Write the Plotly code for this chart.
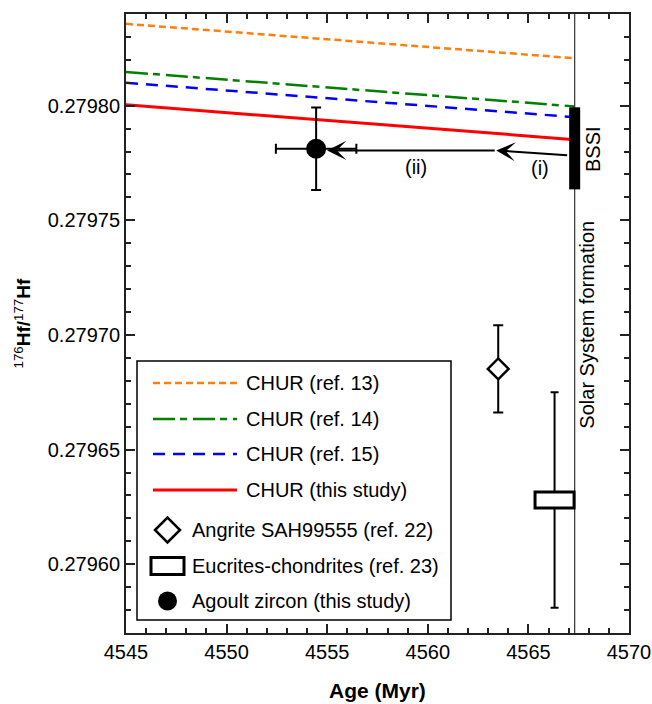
import plotly.graph_objects as go

# ---- data ----
age_range = [4545, 4570]
hf_range = [0.27957, 0.27984]

chur_ages = [4545, 4567.3]
chur_ref13 = [0.2798357, 0.2798207]
chur_ref14 = [0.2798147, 0.2797997]
chur_ref15 = [0.2798100, 0.2797950]
chur_this = [0.2798004, 0.2797852]

ss_age = 4567.3
bssi_lo, bssi_hi = 0.2797635, 0.2797993

angrite_age, angrite_hf, angrite_err = 4563.5, 0.2796852, 0.000019
eucrite_age, eucrite_hf, eucrite_age_err, eucrite_err = 4566.3, 0.279628, 0.97, 0.000047
agoult_age, agoult_hf, agoult_age_err, agoult_err = 4554.45, 0.2797812, 2.0, 0.000018

arrow_i = [(4567.0, 0.2797783), (4563.4, 0.2797805)]
arrow_ii = [(4563.4, 0.2797805), (4555.0, 0.2797805)]

legend_labels = ['CHUR (ref. 13)', 'CHUR (ref. 14)', 'CHUR (ref. 15)', 'CHUR (this study)',
                 'Angrite SAH99555 (ref. 22)', 'Eucrites-chondrites (ref. 23)', 'Agoult zircon (this study)']

# ---- layout helpers (pixel -> paper) ----
W, H = 652, 704
ML, MR, MT, MB = 126, 23, 14, 71
def px_x(px): return (px - ML) / (W - ML - MR)
def px_y(py): return (H - MB - py) / (H - MT - MB)

FONT = 'Liberation Sans, Helvetica, Arial, sans-serif'
line_styles = [
    dict(color='#ff7f0e', width=2.5, dash='7px,4px'),
    dict(color='green', width=2.5, dash='22px,5px,7px,6px'),
    dict(color='blue', width=2.5, dash='12px,8px'),
    dict(color='red', width=3, dash='solid'),
]

fig = go.Figure()
for ys, st in zip([chur_ref13, chur_ref14, chur_ref15, chur_this], line_styles):
    fig.add_trace(go.Scatter(x=chur_ages, y=ys, mode='lines', line=st, showlegend=False, hoverinfo='skip'))

# eucrites error bar (box drawn as shape on top)
fig.add_trace(go.Scatter(
    x=[eucrite_age], y=[eucrite_hf], mode='markers',
    marker=dict(size=1, color='rgba(0,0,0,0)'),
    error_y=dict(type='constant', value=eucrite_err, thickness=2, width=4, color='black'),
    showlegend=False))
# angrite
fig.add_trace(go.Scatter(
    x=[angrite_age], y=[angrite_hf], mode='markers',
    marker=dict(symbol='diamond', size=16, color='white', line=dict(color='black', width=2.5)),
    error_y=dict(type='constant', value=angrite_err, thickness=2, width=5, color='black'),
    showlegend=False))
# agoult zircon
fig.add_trace(go.Scatter(
    x=[agoult_age], y=[agoult_hf], mode='markers',
    marker=dict(symbol='circle', size=20, color='black'),
    error_y=dict(type='constant', value=agoult_err, thickness=2, width=5, color='black'),
    error_x=dict(type='constant', value=agoult_age_err, thickness=2, width=5, color='black'),
    showlegend=False))

shapes = [
    # solar system formation
    dict(type='line', xref='x', yref='paper', x0=ss_age, x1=ss_age, y0=0, y1=1,
         line=dict(color='#333', width=1.2)),
    # BSSI bar
    dict(type='rect', xref='x', yref='y', xsizemode='pixel', xanchor=ss_age, x0=-5.5, x1=5.5,
         y0=bssi_lo, y1=bssi_hi, fillcolor='black', line=dict(width=0)),
    # eucrites box
    dict(type='rect', xref='x', yref='y', ysizemode='pixel', yanchor=eucrite_hf, y0=-8, y1=8,
         x0=eucrite_age - eucrite_age_err, x1=eucrite_age + eucrite_age_err,
         fillcolor='white', line=dict(color='black', width=3)),
    # legend frame
    dict(type='rect', xref='paper', yref='paper', x0=px_x(137), x1=px_x(451), y0=px_y(620), y1=px_y(361),
         fillcolor='white', line=dict(color='black', width=1.5)),
]

rows = [383, 419, 454, 490, 530, 566, 601]
annotations = []
for i, st in enumerate(line_styles):
    shapes.append(dict(type='line', xref='paper', yref='paper', x0=px_x(153), x1=px_x(237),
                       y0=px_y(rows[i]), y1=px_y(rows[i]), line=st))
    annotations.append(dict(x=px_x(244), y=px_y(rows[i]), xref='paper', yref='paper', text=legend_labels[i],
                            showarrow=False, xanchor='left', yanchor='middle'))
mx = px_x(167.5)
shapes.append(dict(type='path', xref='paper', yref='paper', xsizemode='pixel', ysizemode='pixel',
                   xanchor=mx, yanchor=px_y(rows[4]), path='M-12.5,0 L0,12.5 L12.5,0 L0,-12.5 Z',
                   fillcolor='white', line=dict(color='black', width=2.5)))
shapes.append(dict(type='rect', xref='paper', yref='paper', xsizemode='pixel', ysizemode='pixel',
                   xanchor=mx, yanchor=px_y(rows[5]), x0=-16.5, x1=16.5, y0=-8.5, y1=8.5,
                   fillcolor='white', line=dict(color='black', width=3)))
shapes.append(dict(type='circle', xref='paper', yref='paper', xsizemode='pixel', ysizemode='pixel',
                   xanchor=mx, yanchor=px_y(rows[6]), x0=-9.5, x1=9.5, y0=-9.5, y1=9.5,
                   fillcolor='black', line=dict(color='black', width=0)))
for i in range(4, 7):
    annotations.append(dict(x=px_x(190), y=px_y(rows[i]), xref='paper', yref='paper', text=legend_labels[i],
                            showarrow=False, xanchor='left', yanchor='middle'))

# arrows
for (tail, head) in [arrow_i, arrow_ii]:
    annotations.append(dict(x=head[0], y=head[1], ax=tail[0], ay=tail[1], xref='x', yref='y',
                            axref='x', ayref='y', text='', showarrow=True, arrowhead=3,
                            arrowsize=1.6, arrowwidth=2, arrowcolor='black', standoff=0))
annotations += [
    dict(x=4559.4, y=0.2797734, xref='x', yref='y', text='(ii)', showarrow=False, xanchor='center'),
    dict(x=4565.6, y=0.2797730, xref='x', yref='y', text='(i)', showarrow=False, xanchor='center'),
    dict(x=4568.2, y=0.279781, xref='x', yref='y', text='BSSI', showarrow=False, textangle=-90,
         xanchor='center', yanchor='middle'),
    dict(x=4567.9, y=0.2797044, xref='x', yref='y', text='Solar System formation', showarrow=False,
         textangle=-90, xanchor='center', yanchor='middle'),
    # axis titles
    dict(x=0.5, y=px_y(690), xref='paper', yref='paper', text='<b>Age (Myr)</b>', showarrow=False,
         xanchor='center', yanchor='middle', font=dict(size=21)),
    dict(x=px_x(22), y=0.5, xref='paper', yref='paper', showarrow=False, textangle=-90,
         xanchor='center', yanchor='middle',
         text='<sup>176</sup><b>Hf/</b><sup>177</sup><b>Hf</b>', font=dict(size=19)),
]

# automargin off: the template would otherwise widen the right margin for the "4570" label
axis_common = dict(showgrid=False, zeroline=False, showline=True, linecolor='#222', linewidth=2,
                   mirror='ticks', ticks='inside', ticklen=9, tickwidth=1.5, tickcolor='#222',
                   tickfont=dict(size=20, color='black'), automargin=False)
fig.update_layout(
    width=W, height=H,
    margin=dict(l=ML, r=MR, t=MT, b=MB),
    plot_bgcolor='white', paper_bgcolor='white',
    font=dict(family=FONT, size=20, color='black'),
    showlegend=False,
    hovermode=False,
    xaxis=dict(range=age_range, dtick=5, tick0=4545,
               minor=dict(dtick=1, ticks='inside', ticklen=5, tickwidth=1.5, tickcolor='#222'),
               **axis_common),
    yaxis=dict(range=hf_range, dtick=0.00005, tick0=0.2796, tickformat='.5f',
               minor=dict(dtick=0.00001, ticks='inside', ticklen=5, tickwidth=1.5, tickcolor='#222'),
               **axis_common),
    shapes=shapes,
    annotations=annotations,
)
# page body has a default 8px margin and may scroll; drop both so the figure fills the window
fig.write_html("out.html", config={'displayModeBar': False, 'responsive': False},
               post_script="document.body.style.margin='0';document.body.style.overflow='hidden';")
